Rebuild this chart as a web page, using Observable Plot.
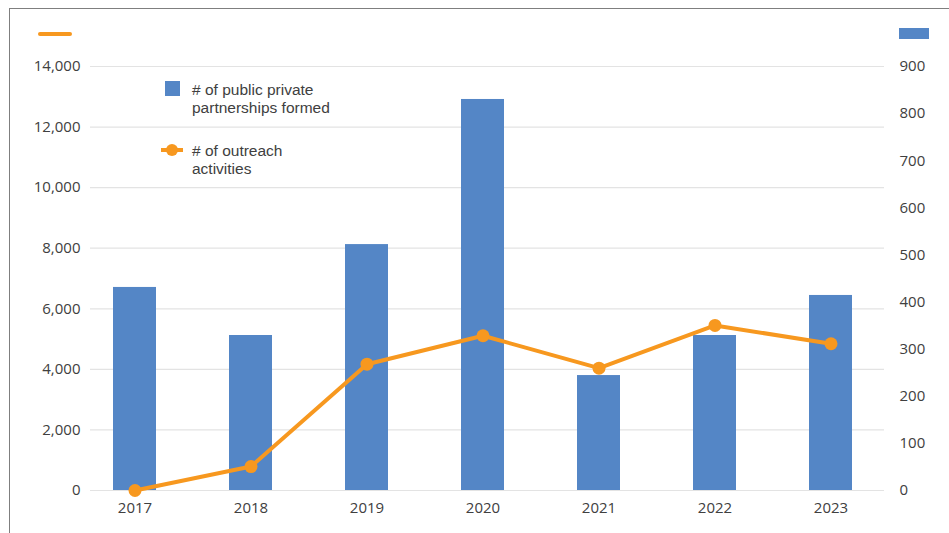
<!DOCTYPE html>
<html>
<head>
<meta charset="utf-8">
<script src="https://cdn.jsdelivr.net/npm/d3@7"></script>
<script src="https://cdn.jsdelivr.net/npm/@observablehq/plot@0.6"></script>
<style>
  html, body { margin: 0; padding: 0; background: #fff; }
  #wrap { position: relative; width: 949px; height: 533px; overflow: hidden; font-family: "Open Sans", "Noto Sans", sans-serif; color: #404040; }
  #frame { position: absolute; left: 9px; top: 8px; width: 1200px; height: 1200px; border-top: 1.5px solid #7f7f7f; border-left: 1.5px solid #7f7f7f; }
  #chart { position: absolute; left: 0; top: 0; }
  .lg { position: absolute; font-family: "Liberation Sans", Arial, sans-serif; font-size: 15.5px; line-height: 17px; color: #404040; white-space: nowrap; }
</style>
</head>
<body>
<div id="wrap">
  <div id="frame"></div>
  <div id="chart"></div>
  <!-- axis identifier swatches -->
  <div style="position:absolute;left:38px;top:32px;width:34px;height:4px;border-radius:2px;background:#F7981F;"></div>
  <div style="position:absolute;left:899px;top:28px;width:30px;height:11px;background:#5486C6;"></div>
  <!-- inner legend -->
  <div style="position:absolute;left:165px;top:81px;width:15px;height:15px;background:#5486C6;"></div>
  <div class="lg" style="left:192px;top:81px;">#&nbsp;of public private</div>
  <div class="lg" style="left:192px;top:99px;">partnerships formed</div>
  <div style="position:absolute;left:161px;top:147.5px;width:22px;height:4px;background:#F7981F;"></div>
  <div style="position:absolute;left:166px;top:143.5px;width:12px;height:12px;border-radius:6px;background:#F7981F;"></div>
  <div class="lg" style="left:192px;top:142px;">#&nbsp;of outreach</div>
  <div class="lg" style="left:192px;top:160px;">activities</div>
</div>
<script>
const years = ["2017", "2018", "2019", "2020", "2021", "2022", "2023"];
const partnerships = [431, 329, 522, 830, 244, 329, 414];   // right axis (bars)
const outreach = [0, 790, 4170, 5110, 4040, 5450, 4845];     // left axis (line)
const leftMax = 14000;
const rightMax = 900;
const leftTicks = d3.range(0, 14001, 2000);
const rightTicks = d3.range(0, 901, 100);

const k = leftMax / rightMax;
const barData = years.map((y, i) => ({year: y, value: partnerships[i] * k}));
const lineData = years.map((y, i) => ({year: y, value: outreach[i]}));

const blue = "#5486C6";
const orange = "#F7981F";

const chart = Plot.plot({
  width: 949,
  height: 533,
  marginLeft: 90,
  marginRight: 65,
  marginTop: 66,
  marginBottom: 43,
  style: {fontFamily: "'Open Sans', 'Noto Sans', sans-serif", fontSize: "15px", color: "#404040", background: "transparent"},
  x: {domain: years, paddingInner: 0.63, paddingOuter: 0.22, align: 0.42, label: null},
  y: {domain: [0, leftMax], label: null},
  marks: [
    Plot.ruleY(leftTicks, {stroke: "#e3e3e3", strokeWidth: 1.2}),
    Plot.barY(barData, {x: "year", y: "value", fill: blue}),
    Plot.lineY(lineData, {x: "year", y: "value", stroke: orange, strokeWidth: 4}),
    Plot.dot(lineData, {x: "year", y: "value", r: 6.5, fill: orange}),
    Plot.axisX({tickSize: 0, tickPadding: 12, fill: "#404040", label: null}),
    Plot.axisY(leftTicks, {anchor: "left", tickSize: 0, tickPadding: 10, tickFormat: d3.format(","), fill: "#404040", label: null}),
    Plot.axisY(rightTicks.map(v => v * k), {anchor: "right", tickSize: 0, tickPadding: 15, textAnchor: "start", tickFormat: d => String(Math.round(d / k)), fill: "#404040", label: null})
  ]
});
document.getElementById("chart").appendChild(chart);
</script>
</body>
</html>
